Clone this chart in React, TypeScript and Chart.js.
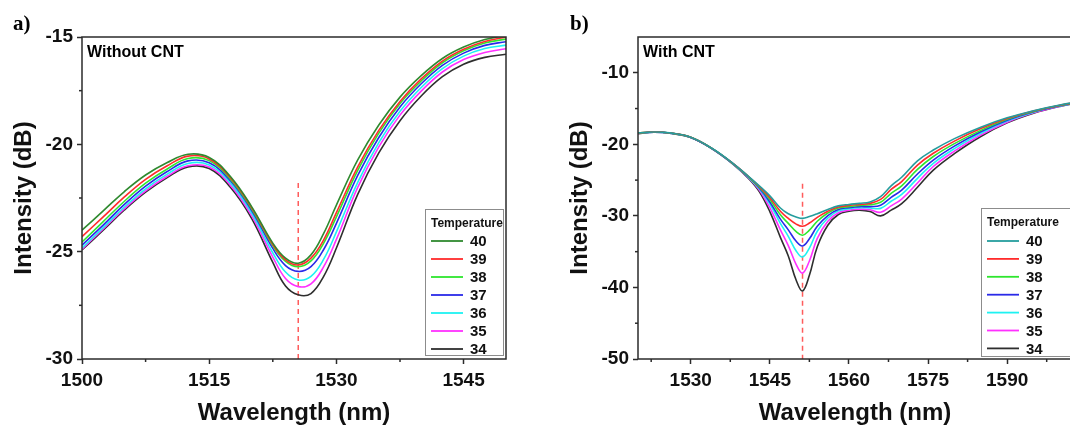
import React, { useEffect, useRef } from "react";
import { Chart, registerables } from "chart.js";

Chart.register(...registerables);

// ---------- DATA ----------
const TEMPERATURES = ["40", "39", "38", "37", "36", "35", "34"];

const WAVELENGTH_A = [1500, 1502.5, 1505, 1507.5, 1510, 1512.5, 1515, 1517.5, 1520, 1522.5, 1524, 1525.5, 1527, 1528.5, 1530, 1532.5, 1535, 1537.5, 1540, 1542.5, 1545, 1547.5, 1550];
const A_40 = [-24.0, -23.1, -22.2, -21.43, -20.86, -20.46, -20.61, -21.5, -22.9, -24.6, -25.3, -25.54, -25.15, -24.15, -22.83, -20.74, -19.1, -17.8, -16.8, -16.0, -15.47, -15.12, -14.92];
const A_39 = [-24.3, -23.38, -22.45, -21.63, -21.01, -20.55, -20.68, -21.56, -22.95, -24.66, -25.38, -25.62, -25.3, -24.45, -23.18, -21.06, -19.35, -18.0, -16.95, -16.12, -15.57, -15.21, -15.0];
const A_38 = [-24.55, -23.6, -22.65, -21.81, -21.16, -20.66, -20.76, -21.62, -23.0, -24.72, -25.45, -25.7, -25.43, -24.6, -23.38, -21.22, -19.48, -18.1, -17.05, -16.2, -15.64, -15.28, -15.1];
const A_37 = [-24.7, -23.76, -22.8, -21.95, -21.28, -20.77, -20.86, -21.7, -23.08, -24.85, -25.65, -25.92, -25.7, -24.9, -23.68, -21.46, -19.68, -18.26, -17.18, -16.32, -15.75, -15.39, -15.22];
const A_36 = [-24.82, -23.88, -22.92, -22.07, -21.4, -20.89, -20.96, -21.8, -23.2, -25.05, -25.95, -26.32, -26.15, -25.35, -24.08, -21.78, -19.92, -18.46, -17.35, -16.47, -15.89, -15.54, -15.38];
const A_35 = [-24.88, -23.94, -23.0, -22.17, -21.5, -21.0, -21.06, -21.9, -23.32, -25.25, -26.25, -26.63, -26.5, -25.7, -24.43, -22.02, -20.12, -18.64, -17.52, -16.63, -16.05, -15.72, -15.55];
const A_34 = [-24.92, -24.0, -23.06, -22.23, -21.56, -21.05, -21.13, -22.0, -23.45, -25.5, -26.6, -27.01, -26.95, -26.15, -24.83, -22.34, -20.4, -18.9, -17.75, -16.85, -16.27, -15.95, -15.8];

const WAVELENGTH_B = [1520, 1523, 1526, 1530, 1534, 1538, 1541, 1543, 1545, 1547, 1548.5, 1550, 1551.2, 1552.5, 1554, 1556, 1558, 1560, 1562, 1564, 1566, 1568, 1570, 1573, 1576, 1580, 1585, 1590, 1595, 1600, 1605];
const B_40 = [-18.4, -18.27, -18.4, -19.0, -20.55, -22.65, -24.5, -25.8, -27.2, -28.9, -29.7, -30.15, -30.35, -30.1, -29.7, -29.1, -28.6, -28.4, -28.25, -28.05, -27.3, -25.8, -24.6, -22.3, -20.8, -19.2, -17.6, -16.3, -15.3, -14.5, -13.9];
const B_39 = [-18.42, -18.27, -18.41, -19.01, -20.56, -22.67, -24.53, -25.9, -27.45, -29.35, -30.35, -31.15, -31.45, -31.0, -30.2, -29.35, -28.75, -28.55, -28.4, -28.25, -27.7, -26.3, -25.2, -22.9, -21.25, -19.55, -17.8, -16.4, -15.35, -14.53, -13.92];
const B_38 = [-18.43, -18.28, -18.42, -19.02, -20.57, -22.68, -24.57, -26.0, -27.7, -29.85, -31.05, -32.2, -32.7, -32.0, -30.75, -29.6, -28.9, -28.7, -28.55, -28.45, -28.1, -26.85, -25.8, -23.5, -21.7, -19.9, -18.05, -16.5, -15.4, -14.57, -13.93];
const B_37 = [-18.45, -18.28, -18.42, -19.03, -20.58, -22.7, -24.62, -26.1, -28.05, -30.45, -31.95, -33.55, -34.2, -33.2, -31.45, -29.95, -29.1, -28.85, -28.7, -28.7, -28.5, -27.4, -26.4, -24.15, -22.2, -20.25, -18.25, -16.65, -15.45, -14.6, -13.95];
const B_36 = [-18.46, -18.29, -18.43, -19.03, -20.58, -22.72, -24.67, -26.22, -28.35, -31.05, -32.85, -34.9, -35.75, -34.5, -32.15, -30.3, -29.3, -29.0, -28.85, -28.9, -28.95, -27.95, -27.0, -24.75, -22.65, -20.6, -18.45, -16.75, -15.5, -14.63, -13.96];
const B_35 = [-18.48, -18.29, -18.44, -19.04, -20.59, -22.73, -24.73, -26.4, -28.85, -31.95, -34.15, -36.8, -38.0, -36.3, -33.15, -30.75, -29.55, -29.2, -29.05, -29.15, -29.5, -28.6, -27.65, -25.4, -23.1, -20.95, -18.7, -16.9, -15.6, -14.67, -13.98];
const B_34 = [-18.5, -18.3, -18.45, -19.05, -20.6, -22.75, -24.8, -26.6, -29.4, -33.0, -35.6, -39.0, -40.5, -38.3, -34.3, -31.3, -29.8, -29.35, -29.2, -29.4, -30.0, -29.2, -28.3, -26.0, -23.6, -21.3, -18.9, -17.0, -15.65, -14.7, -14.0];

const TICKS_A_X = [1500, 1515, 1530, 1545];
const MINOR_A_X = [1507.5, 1522.5, 1537.5];
const TICKS_A_Y = [-30, -25, -20, -15];
const MINOR_A_Y = [-27.5, -22.5, -17.5];
const TICKS_B_X = [1530, 1545, 1560, 1575, 1590];
const MINOR_B_X = [1522.5, 1537.5, 1552.5, 1567.5, 1582.5, 1597.5];
const TICKS_B_Y = [-50, -40, -30, -20, -10];
const MINOR_B_Y = [-45, -35, -25, -15];

const MARKER_A_X = 1525.5;
const MARKER_A_Y = [-21.8, -30];
const MARKER_B_X = 1551.2;
const MARKER_B_Y = [-25.5, -50];

// ---------- STYLE ----------
const SANS = "'Liberation Sans', Arial, sans-serif";
const SERIF = "'Liberation Serif', 'Times New Roman', serif";
const AXIS = "#2b2b2b";
const COLORS_A = ["#2f8a2f", "#ff2b2b", "#2ee62e", "#2a2ae8", "#1ef2f2", "#ff30ff", "#2e2e2e"];
const COLORS_B = ["#259d9d", "#ff2b2b", "#2ee62e", "#2a2ae8", "#1ef2f2", "#ff30ff", "#2e2e2e"];

const decoPlugin = {
  id: "deco",
  afterDraw(chart: any, _args: any, opts: any) {
    const { ctx, chartArea: ca, scales } = chart;
    ctx.save();
    ctx.strokeStyle = AXIS;
    ctx.lineWidth = 1.5;
    for (const v of opts.minorX) {
      const px = scales.x.getPixelForValue(v);
      ctx.beginPath();
      ctx.moveTo(px, ca.bottom);
      ctx.lineTo(px, ca.bottom + 3);
      ctx.stroke();
    }
    for (const v of opts.minorY) {
      const py = scales.y.getPixelForValue(v);
      ctx.beginPath();
      ctx.moveTo(ca.left, py);
      ctx.lineTo(ca.left - 3, py);
      ctx.stroke();
    }
    ctx.strokeRect(ca.left, ca.top, ca.right - ca.left, ca.bottom - ca.top);

    ctx.fillStyle = "#000";
    ctx.textBaseline = "middle";
    ctx.textAlign = "left";
    ctx.font = `bold 21px ${SERIF}`;
    ctx.fillText(opts.letter, opts.letterX, 25);
    ctx.font = `bold 16px ${SANS}`;
    ctx.fillText(opts.caption, ca.left + 5, 53);

    const L = opts.legend;
    ctx.fillStyle = "#fff";
    ctx.fillRect(L.x, L.y, L.w, L.h);
    ctx.strokeStyle = "#8c8c8c";
    ctx.lineWidth = 1;
    ctx.strokeRect(L.x + 0.5, L.y + 0.5, L.w, L.h);
    ctx.fillStyle = "#111";
    ctx.font = `bold 12px ${SANS}`;
    ctx.fillText(L.title, L.x + 6, L.y + 15);
    ctx.font = `bold 15px ${SANS}`;
    let row = 0;
    chart.data.datasets.forEach((ds: any) => {
      if (ds.isMarker) return;
      const y = L.firstRow + row * L.rowGap;
      ctx.strokeStyle = ds.borderColor;
      ctx.lineWidth = 1.8;
      ctx.beginPath();
      ctx.moveTo(L.x + 6, y);
      ctx.lineTo(L.x + 38, y);
      ctx.stroke();
      ctx.fillStyle = "#111";
      ctx.fillText(ds.label, L.x + 45, y + 1);
      row++;
    });
    ctx.restore();
  },
};

function makeConfig(p: any) {
  const datasets: any[] = p.series.map((s: number[], i: number) => ({
    label: TEMPERATURES[i],
    data: p.wl.map((w: number, j: number) => ({ x: w, y: s[j] })),
    borderColor: p.colors[i],
    borderWidth: 1.6,
    pointRadius: 0,
    fill: false,
    tension: 0.4,
  }));
  datasets.push({
    label: "",
    isMarker: true,
    data: [
      { x: p.markerX, y: p.markerY[0] },
      { x: p.markerX, y: p.markerY[1] },
    ],
    borderColor: "#ff5c5c",
    borderWidth: 1.5,
    borderDash: [5, 4],
    pointRadius: 0,
    fill: false,
  });
  const tickFont = { family: SANS, size: 19, weight: "bold" as const };
  const titleFont = { family: SANS, size: 24, weight: "bold" as const };
  const grid = {
    display: true,
    drawOnChartArea: false,
    drawTicks: true,
    tickLength: 5,
    tickColor: AXIS,
    tickWidth: 1.5,
  };
  return {
    type: "line" as const,
    data: { datasets },
    options: {
      animation: false as const,
      responsive: false,
      maintainAspectRatio: false,
      layout: { padding: { left: p.padLeft, right: p.padRight, top: 37, bottom: 0 } },
      plugins: {
        legend: { display: false },
        tooltip: { enabled: false },
        deco: {
          minorX: p.minorX,
          minorY: p.minorY,
          letter: p.letter,
          letterX: p.letterX,
          caption: p.caption,
          legend: p.legend,
        },
      },
      scales: {
        x: {
          type: "linear" as const,
          min: p.xMin,
          max: p.xMax,
          afterBuildTicks: (s: any) => {
            s.ticks = p.ticksX.map((v: number) => ({ value: v }));
          },
          afterFit: (s: any) => {
            s.height = 69;
          },
          ticks: {
            font: tickFont,
            color: "#111",
            padding: 5,
            maxRotation: 0,
            autoSkip: false,
            callback: (v: any) => String(v),
          },
          grid,
          border: { display: false },
          title: {
            display: true,
            text: "Wavelength (nm)",
            font: titleFont,
            color: "#111",
            padding: { top: 0, bottom: 0 },
          },
        },
        y: {
          type: "linear" as const,
          min: p.yMin,
          max: p.yMax,
          afterBuildTicks: (s: any) => {
            s.ticks = p.ticksY.map((v: number) => ({ value: v }));
          },
          afterFit: (s: any) => {
            s.width = 82;
          },
          ticks: {
            font: tickFont,
            color: "#111",
            padding: 4,
            autoSkip: false,
            callback: (v: any) => String(v),
          },
          grid,
          border: { display: false },
          title: {
            display: true,
            text: "Intensity (dB)",
            font: titleFont,
            color: "#111",
            padding: { top: 10, bottom: 0 },
          },
        },
      },
    },
    plugins: [decoPlugin],
  };
}

const CONFIG_A = {
  wl: WAVELENGTH_A,
  series: [A_40, A_39, A_38, A_37, A_36, A_35, A_34],
  colors: COLORS_A,
  markerX: MARKER_A_X,
  markerY: MARKER_A_Y,
  xMin: 1500,
  xMax: 1550,
  yMin: -30,
  yMax: -15,
  ticksX: TICKS_A_X,
  ticksY: TICKS_A_Y,
  minorX: MINOR_A_X,
  minorY: MINOR_A_Y,
  padLeft: 0,
  padRight: 24,
  letter: "a)",
  letterX: 13,
  caption: "Without CNT",
  legend: { x: 425, y: 209, w: 78, h: 146, title: "Temperature", firstRow: 241, rowGap: 18 },
};

const CONFIG_B = {
  wl: WAVELENGTH_B,
  series: [B_40, B_39, B_38, B_37, B_36, B_35, B_34],
  colors: COLORS_B,
  markerX: MARKER_B_X,
  markerY: MARKER_B_Y,
  xMin: 1520,
  xMax: 1602.3,
  yMin: -50,
  yMax: -5,
  ticksX: TICKS_B_X,
  ticksY: TICKS_B_Y,
  minorX: MINOR_B_X,
  minorY: MINOR_B_Y,
  padLeft: 26,
  padRight: 28,
  letter: "b)",
  letterX: 40,
  caption: "With CNT",
  legend: { x: 451, y: 208, w: 110, h: 148, title: "Temperature", firstRow: 241, rowGap: 17.9 },
};

function Panel({ cfg, left, width }: { cfg: any; left: number; width: number }) {
  const ref = useRef<HTMLCanvasElement>(null);
  useEffect(() => {
    const chart = new Chart(ref.current as HTMLCanvasElement, makeConfig(cfg) as any);
    return () => chart.destroy();
  }, []);
  return (
    <canvas
      ref={ref}
      width={width}
      height={428}
      style={{ position: "absolute", left, top: 0, width, height: 428 }}
    />
  );
}

export default function App() {
  return (
    <div
      style={{
        position: "absolute",
        left: 0,
        top: 0,
        width: 1070,
        height: 428,
        overflow: "hidden",
        background: "#fff",
      }}
    >
      <Panel cfg={CONFIG_A} left={0} width={530} />
      <Panel cfg={CONFIG_B} left={530} width={570} />
    </div>
  );
}
